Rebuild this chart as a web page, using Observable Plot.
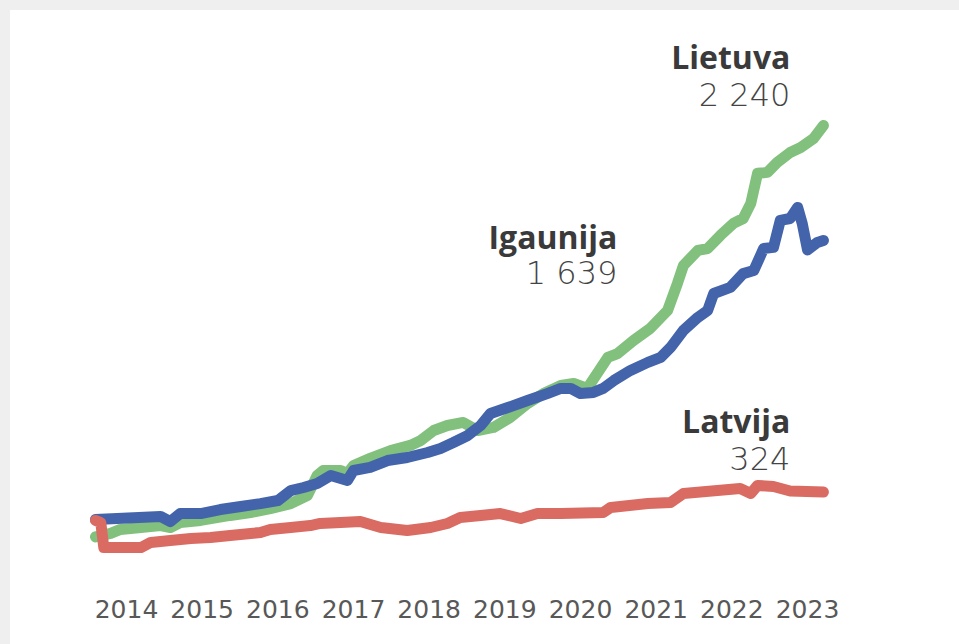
<!DOCTYPE html>
<html><head><meta charset="utf-8">
<script src="https://cdn.jsdelivr.net/npm/d3@7"></script>
<script src="https://cdn.jsdelivr.net/npm/@observablehq/plot@0.6"></script>
<style>
html,body{margin:0;padding:0;background:#efefef;width:959px;height:644px;overflow:hidden}
#chart{position:absolute;left:10px;top:10px;width:949px;height:634px;background:#fff}
</style></head><body><div id="chart"></div>
<script>
// Series names, end-value labels and year tick labels
const seriesNames = ["Lietuva", "Igaunija", "Latvija"];
const endLabels = ["2 240", "1 639", "324"];
const yearLabels = [2014, 2015, 2016, 2017, 2018, 2019, 2020, 2021, 2022, 2023];

// Lietuva (green)
const lietuvaT = [2014.09,2014.29,2014.42,2014.69,2014.95,2015.08,2015.21,2015.48,2015.87,2016.14,2016.40,2016.67,2016.89,2017.02,2017.10,2017.33,2017.42,2017.50,2017.72,2017.99,2018.25,2018.39,2018.56,2018.74,2018.95,2019.14,2019.35,2019.57,2019.80,2020.01,2020.24,2020.41,2020.59,2020.72,2020.86,2020.99,2021.20,2021.42,2021.65,2021.78,2021.86,2022.05,2022.18,2022.35,2022.52,2022.65,2022.75,2022.84,2022.97,2023.10,2023.27,2023.41,2023.58,2023.71];
const lietuvaV = [90,108,129,139,149,139,165,176,202,217,238,264,306,411,437,437,421,463,500,541,568,594,646,672,688,646,662,714,787,839,881,892,866,944,1028,1048,1116,1179,1273,1414,1508,1587,1597,1666,1728,1754,1833,1990,1995,2047,2099,2125,2172,2240];

// Igaunija (blue)
const igaunijaT = [2014.09,2014.95,2015.08,2015.21,2015.48,2015.74,2016.01,2016.27,2016.50,2016.67,2016.84,2017.02,2017.20,2017.42,2017.50,2017.72,2017.95,2018.21,2018.48,2018.65,2018.82,2019.01,2019.18,2019.31,2019.54,2019.80,2020.06,2020.24,2020.37,2020.50,2020.67,2020.80,2020.94,2021.16,2021.39,2021.56,2021.69,2021.86,2022.05,2022.18,2022.26,2022.48,2022.65,2022.79,2022.92,2023.05,2023.14,2023.27,2023.37,2023.43,2023.50,2023.63,2023.71];
const igaunijaV = [181,197,170,212,212,233,249,264,280,332,348,369,411,385,437,453,489,505,531,552,583,620,672,735,766,803,839,866,866,839,845,866,907,960,1002,1028,1080,1169,1237,1273,1362,1394,1466,1482,1597,1603,1744,1754,1812,1728,1590,1629,1639];

// Latvija (red)
const latvijaT = [2014.09,2014.16,2014.20,2014.69,2014.82,2015.08,2015.35,2015.61,2015.87,2016.14,2016.27,2016.40,2016.67,2016.93,2017.06,2017.33,2017.59,2017.86,2018.21,2018.52,2018.74,2018.91,2019.18,2019.44,2019.71,2019.93,2020.24,2020.80,2020.90,2021.39,2021.69,2021.86,2022.31,2022.61,2022.75,2022.84,2023.05,2023.27,2023.71];
const latvijaV = [176,165,34,34,61,71,82,87,97,108,113,129,139,149,160,165,170,139,123,139,160,191,202,212,186,212,212,217,244,264,270,317,332,343,317,359,353,330,324];

const colors = ["#82c07d", "#4363ab", "#d96b62"];

const seriesT = [lietuvaT, igaunijaT, latvijaT];
const seriesV = [lietuvaV, igaunijaV, latvijaV];
const rows = [];
seriesNames.forEach((name, i) => {
  seriesT[i].forEach((t, j) => rows.push({s: name, t, v: seriesV[i][j]}));
});

// label offsets (layout) relative to the last point of each series
const layout = {
  "Lietuva": {dx: -33, dyName: -66.5, dyVal: -29.5},
  "Igaunija": {dx: -206, dyName: -2, dyVal: 33.5},
  "Latvija": {dx: -33, dyName: -69.5, dyVal: -32.5}
};

const labelMarks = [];
seriesNames.forEach((name, i) => {
  const last = {t: seriesT[i][seriesT[i].length - 1], v: seriesV[i][seriesV[i].length - 1], name, val: endLabels[i]};
  const L = layout[name];
  labelMarks.push(Plot.text([last], {x: "t", y: "v", text: "name", dx: L.dx, dy: L.dyName, textAnchor: "end", lineAnchor: "middle",
    fontSize: 32, fontWeight: "bold", fontFamily: "Open Sans", fill: "#3a3a3a"}));
  labelMarks.push(Plot.text([last], {x: "t", y: "v", text: "val", dx: L.dx, dy: L.dyVal, textAnchor: "end", lineAnchor: "middle",
    fontSize: 32, fontWeight: 300, fontFamily: "DejaVu Sans", fill: "#444"}));
});

const chart = Plot.plot({
  width: 949,
  height: 634,
  marginLeft: 40.33,
  marginRight: 76.3,
  marginTop: 115,
  marginBottom: 90.4,
  style: {background: "transparent", fontFamily: "DejaVu Sans", fontSize: "25px", color: "#585858"},
  x: {domain: [2013.5, 2024.5], ticks: yearLabels.map(y => y + 0.5), tickFormat: d => String(Math.round(d - 0.5)), tickSize: 0, tickPadding: 46, label: null},
  y: {domain: [0, 2240], axis: null},
  color: {domain: seriesNames, range: colors},
  marks: [
    Plot.line(rows, {x: "t", y: "v", z: "s", stroke: "s", strokeWidth: 11, strokeLinejoin: "round", strokeLinecap: "round"}),
    ...labelMarks
  ]
});
document.getElementById("chart").appendChild(chart);
</script>
</body></html>
